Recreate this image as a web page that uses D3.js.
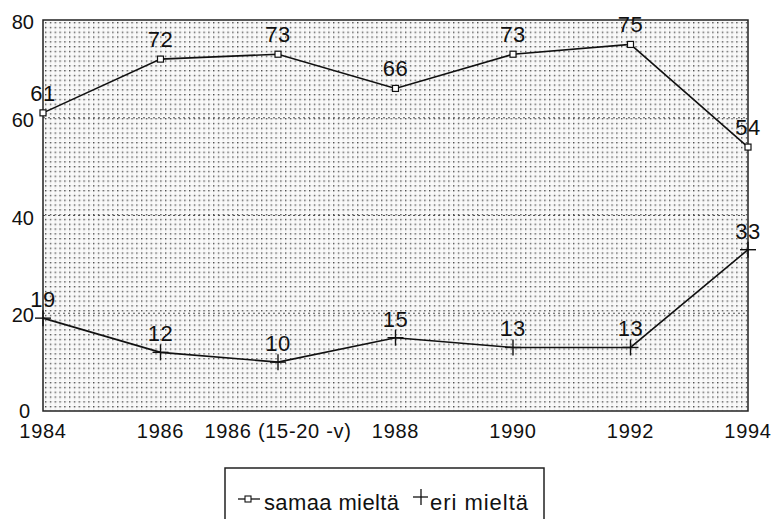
<!DOCTYPE html>
<html><head><meta charset="utf-8">
<script src="https://cdn.jsdelivr.net/npm/d3@7"></script>
<style>
html,body{margin:0;padding:0;background:#fff;}
svg text{font-family:"Liberation Sans",Arial,Helvetica,sans-serif;fill:#111;}
</style></head>
<body>
<svg id="c" width="773" height="519"></svg>
<script>
const categories = ["1984","1986","1986 (15-20 -v)","1988","1990","1992","1994"];
const samaa = [61,72,73,66,73,75,54];
const eri = [19,12,10,15,13,13,33];
const yTicks = [0,20,40,60,80];
const gridVals = [20,40,60];
const legendLabels = ["samaa mieltä","eri mieltä"];

const svg = d3.select("#c");
const L=43, R=748, T=20, B=411;
const x = d3.scalePoint().domain(categories).range([L,R]).padding(0);
const y = d3.scaleLinear().domain([0,80]).range([B,T]);

// pattern
const defs = svg.append("defs");
const pat = defs.append("pattern").attr("id","dots").attr("patternUnits","userSpaceOnUse")
  .attr("x",L+2).attr("y",T+2).attr("width",4.8).attr("height",4.8);
pat.append("rect").attr("width",4.8).attr("height",4.8).attr("fill","#fafafa");
pat.append("rect").attr("x",0).attr("y",0).attr("width",1.4).attr("height",1.4).attr("fill","#4a4a4a");
pat.append("rect").attr("x",2.4).attr("y",0).attr("width",1.2).attr("height",1.2).attr("fill","#e8e8e8");
pat.append("rect").attr("x",0).attr("y",2.4).attr("width",1.2).attr("height",1.2).attr("fill","#e8e8e8");

svg.append("rect").attr("x",L).attr("y",T).attr("width",R-L).attr("height",B-T).attr("fill","url(#dots)");

// gridlines
svg.append("g").selectAll("line").data(gridVals).join("line")
  .attr("x1",L).attr("x2",R).attr("y1",d=>y(d)).attr("y2",d=>y(d))
  .attr("stroke","#555").attr("stroke-width",1.2).attr("stroke-dasharray","2,3");

// frame
svg.append("rect").attr("x",L).attr("y",T).attr("width",R-L).attr("height",B-T)
  .attr("fill","none").attr("stroke","#222").attr("stroke-width",1.5);

// y labels
svg.append("g").selectAll("text").data(yTicks).join("text")
  .attr("x",d=>d===0?30:34).attr("y",d=>y(d)+(d===0?7:9)).attr("text-anchor","end")
  .attr("font-size",20).text(d=>d);

// x labels
svg.append("g").selectAll("text").data(categories).join("text")
  .attr("x",d=>x(d)).attr("y",438).attr("text-anchor","middle")
  .attr("font-size",20).attr("letter-spacing",0.7).text(d=>d);

const line = d3.line().x((d,i)=>x(categories[i])).y(d=>y(d));

// samaa
svg.append("path").datum(samaa).attr("d",line).attr("fill","none").attr("stroke","#111").attr("stroke-width",1.6);
svg.append("g").selectAll("rect").data(samaa).join("rect")
  .attr("x",(d,i)=>x(categories[i])-3).attr("y",d=>y(d)-3).attr("width",6).attr("height",6)
  .attr("fill","#fff").attr("stroke","#111").attr("stroke-width",1.2);
svg.append("g").selectAll("text").data(samaa).join("text")
  .attr("x",(d,i)=>x(categories[i])).attr("y",d=>y(d)-12).attr("text-anchor","middle")
  .attr("font-size",22).attr("letter-spacing",0.5).text(d=>d);

// eri
svg.append("path").datum(eri).attr("d",line).attr("fill","none").attr("stroke","#111").attr("stroke-width",1.6);
const cr = svg.append("g").selectAll("g").data(eri).join("g")
  .attr("transform",(d,i)=>`translate(${x(categories[i])},${y(d)})`);
cr.append("line").attr("x1",-8).attr("x2",8).attr("stroke","#111").attr("stroke-width",1.4);
cr.append("line").attr("y1",-8).attr("y2",8).attr("stroke","#111").attr("stroke-width",1.4);
svg.append("g").selectAll("text").data(eri).join("text")
  .attr("x",(d,i)=>x(categories[i])).attr("y",d=>y(d)-11).attr("text-anchor","middle")
  .attr("font-size",22).attr("letter-spacing",0.5).text(d=>d);

// legend
svg.append("rect").attr("x",225).attr("y",468).attr("width",319).attr("height",70)
  .attr("fill","#fff").attr("stroke","#222").attr("stroke-width",1.5);
svg.append("line").attr("x1",238).attr("x2",260).attr("y1",499).attr("y2",499).attr("stroke","#111").attr("stroke-width",1.3);
svg.append("rect").attr("x",245).attr("y",496).attr("width",6).attr("height",6).attr("fill","#fff").attr("stroke","#111").attr("stroke-width",1.1);
svg.append("text").attr("x",264).attr("y",510).attr("font-size",22)
  .attr("textLength",135).attr("lengthAdjust","spacing").text(legendLabels[0]);
svg.append("line").attr("x1",413).attr("x2",428).attr("y1",497).attr("y2",497).attr("stroke","#111").attr("stroke-width",1.3);
svg.append("line").attr("x1",421).attr("x2",421).attr("y1",489).attr("y2",505).attr("stroke","#111").attr("stroke-width",1.3);
svg.append("text").attr("x",430).attr("y",510).attr("font-size",22)
  .attr("textLength",98).attr("lengthAdjust","spacing").text(legendLabels[1]);
</script>
</body></html>
